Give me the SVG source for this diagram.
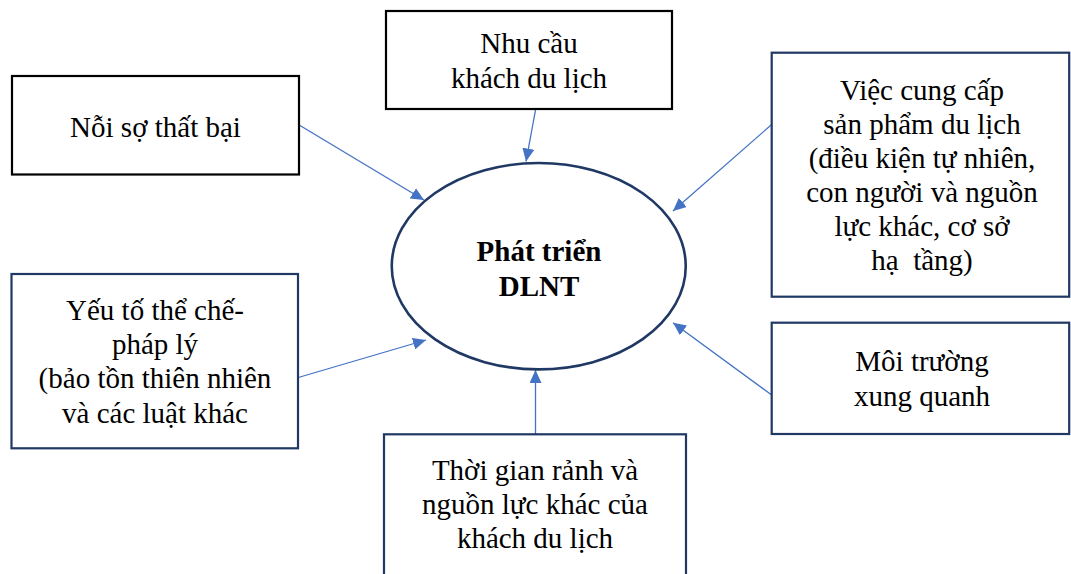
<svg xmlns="http://www.w3.org/2000/svg" width="1071" height="574" viewBox="0 0 1071 574">
<style>
.box{fill:#fff;stroke-width:2.2}
.blk{stroke:#000}
.nav{stroke:#1F3864}
.t{font-family:"Liberation Serif","Times New Roman",serif;font-size:29px;fill:#000;text-anchor:middle}
.b{font-weight:bold}
.c{stroke:#4472C4;stroke-width:1.3;fill:none;marker-end:url(#ah)}
</style>
<defs>
<marker id="ah" markerUnits="userSpaceOnUse" markerWidth="14" markerHeight="12" refX="13" refY="6" orient="auto">
<path d="M0,0 L13,6 L0,12 z" fill="#4472C4"/>
</marker>
</defs>
<rect width="1071" height="574" fill="#fff"/>
<g id="connectors">
<line class="c" x1="300" y1="125.5" x2="424" y2="200"/>
<line class="c" x1="535.7" y1="109" x2="526" y2="161.5"/>
<line class="c" x1="771.7" y1="124.5" x2="673" y2="211"/>
<line class="c" x1="298.3" y1="377.5" x2="426" y2="340"/>
<line class="c" x1="771.7" y1="395" x2="673" y2="322.7"/>
<line class="c" x1="535.5" y1="434" x2="535.5" y2="370"/>
</g>
<g id="center">
<ellipse cx="538.75" cy="266.2" rx="147" ry="103.2" fill="none" stroke="#1F3864" stroke-width="2.6"/>
<text class="t b" x="539" y="260.7">Phát triển</text>
<text class="t b" x="539" y="296">DLNT</text>
</g>
<g id="noi-so">
<rect class="box blk" x="12" y="76" width="287" height="98.5"/>
<text class="t" x="155.5" y="136.5">Nỗi sợ thất bại</text>
</g>
<g id="nhu-cau">
<rect class="box blk" x="386" y="11" width="286" height="98"/>
<text class="t" x="529" y="53">Nhu cầu</text>
<text class="t" x="529" y="88">khách du lịch</text>
</g>
<g id="viec-cung-cap">
<rect class="box nav" x="771.7" y="52.7" width="297.5" height="244"/>
<text class="t" x="922" y="100">Việc cung cấp</text>
<text class="t" x="922" y="133.5">sản phẩm du lịch</text>
<text class="t" x="922" y="168">(điều kiện tự nhiên,</text>
<text class="t" x="922" y="202">con người và nguồn</text>
<text class="t" x="922" y="235.5">lực khác, cơ sở</text>
<text class="t" x="922" y="270" style="white-space:pre">hạ  tầng)</text>
</g>
<g id="yeu-to">
<rect class="box nav" x="11.5" y="274" width="286.5" height="174.3"/>
<text class="t" x="155" y="320">Yếu tố thể chế-</text>
<text class="t" x="155" y="353.5">pháp lý</text>
<text class="t" x="155" y="387.5">(bảo tồn thiên nhiên</text>
<text class="t" x="155" y="422.5">và các luật khác</text>
</g>
<g id="moi-truong">
<rect class="box nav" x="771.7" y="322.7" width="297.5" height="111.3"/>
<text class="t" x="922" y="370.7">Môi trường</text>
<text class="t" x="922" y="406">xung quanh</text>
</g>
<g id="thoi-gian">
<rect class="box nav" x="384" y="434.3" width="302" height="150"/>
<text class="t" x="535" y="480">Thời gian rảnh và</text>
<text class="t" x="535" y="514">nguồn lực khác của</text>
<text class="t" x="535" y="548">khách du lịch</text>
</g>
</svg>
